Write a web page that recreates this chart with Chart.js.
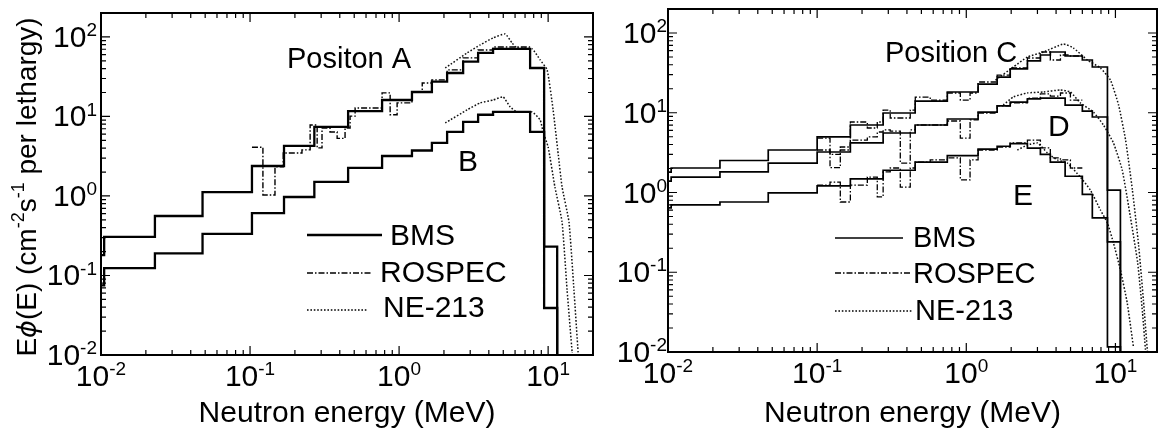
<!DOCTYPE html>
<html>
<head>
<meta charset="utf-8">
<script src="https://cdn.jsdelivr.net/npm/chart.js@4.4.1/dist/chart.umd.min.js"></script>
<style>
  html, body { margin: 0; padding: 0; background: #fff; overflow: hidden; }
  #wrap { position: relative; width: 1158px; height: 429px; }
  #leftBox { position: absolute; left: 0; top: 0; width: 600px; height: 429px; }
  #rightBox { position: absolute; left: 600px; top: 0; width: 558px; height: 429px; }
</style>
</head>
<body>
<div id="wrap">
  <div id="leftBox"><canvas id="leftChart" width="600" height="429"></canvas></div>
  <div id="rightBox"><canvas id="rightChart" width="558" height="429"></canvas></div>
</div>
<script>
// ---- Left panel: positions A and B ----
// BMS histograms (bin edges in MeV, one value per bin)
const bmsEdgesLeft = [0.01, 0.0105, 0.023, 0.048, 0.103, 0.169, 0.27, 0.455, 0.769, 1.22, 1.66, 2.10, 2.69, 3.39, 4.27, 7.57, 9.4, 11.5];
const bmsA = [0.18, 0.305, 0.56, 1.12, 2.38, 4.26, 7.38, 11.7, 16.1, 20.3, 27.4, 35.2, 48.9, 62.9, 70.6, 40.7, 0.23];
const bmsB = [0.075, 0.124, 0.19, 0.333, 0.61, 0.97, 1.50, 2.25, 3.18, 3.73, 4.64, 6.38, 8.53, 10.5, 11.4, 6.38, 0.039];
// ROSPEC histogram, position A
const rospecEdgesLeft = [0.103, 0.122, 0.147, 0.167, 0.223, 0.253, 0.282, 0.304, 0.344, 0.384, 0.434, 0.469, 0.507, 0.769, 0.871, 0.970, 1.22, 1.43, 1.66, 2.10, 2.69, 3.39, 4.27, 7.57];
const rospecA = [4.1, 1.03, 2.32, 3.47, 3.8, 7.81, 4.02, 7.16, 6.38, 5.3, 7.16, 10.1, 12.8, 19.8, 10.5, 14.8, 20.3, 26.4, 28.8, 38.5, 54.5, 68.5, 74.8];
// NE-213 spectra
const neEnergyA = [2.04, 2.86, 3.50, 4.27, 5.15, 5.73, 6.19, 7.81, 8.84, 9.85, 10.8, 11.7, 12.4, 13.8, 14.9, 15.9];
const neA = [40.7, 62.9, 79.3, 97.1, 109, 84.1, 72.7, 70.6, 51.4, 38.5, 12.1, 3.28, 1.30, 0.471, 0.0657, 0.0106];
const neEnergyB = [2.04, 2.86, 3.50, 4.27, 4.99, 5.56, 6.19, 7.81, 8.84, 9.26, 10.0, 11.1, 12.4, 13.4, 14.5];
const neB = [8.29, 12.1, 14.8, 16.1, 17.6, 13.2, 11.4, 11.4, 9.03, 6.38, 4.13, 1.30, 0.471, 0.0657, 0.0106];

// ---- Right panel: positions C, D and E ----
const bmsEdgesRight = [0.01, 0.0105, 0.0223, 0.047, 0.10, 0.167, 0.277, 0.454, 0.746, 1.20, 1.61, 1.97, 2.57, 3.14, 3.66, 4.6, 6.0, 7.0, 8.84, 10.8];
const bmsC = [1.8, 2.03, 2.52, 3.41, 4.97, 7.02, 9.93, 14.0, 18.2, 22.9, 28.0, 35.4, 44.6, 53.0, 57.8, 51.5, 45.9, 37.5, 1.07];
const bmsD = [1.39, 1.56, 1.81, 2.34, 3.22, 4.18, 5.57, 7.02, 8.35, 10.2, 12.2, 13.6, 14.9, 15.3, 15.3, 12.5, 10.5, 8.85, 0.24];
const bmsE = [0.64, 0.70, 0.76, 0.99, 1.21, 1.48, 1.9, 2.4, 2.9, 3.5, 3.8, 4.1, 3.6, 3.0, 2.4, 1.6, 0.95, 0.48, 0.0116];
const rospecEdgesRight = [0.10, 0.122, 0.143, 0.167, 0.217, 0.253, 0.277, 0.309, 0.361, 0.421, 0.455, 0.573, 0.746, 0.912, 1.06, 1.20, 1.61, 1.97, 2.57, 3.14, 3.66, 4.28, 4.99, 6.0];
const rospecC = [4.82, 3.0, 3.72, 7.66, 6.44, 7.66, 10.8, 8.59, 8.59, 10.8, 15.7, 14.4, 17.7, 14.4, 17.7, 24.3, 29.7, 36.4, 48.6, 57.8, 45.9, 53.0, 51.5];
const rospecD = [3.41, 2.05, 3.41, 4.55, 4.97, 5.74, 6.09, 5.9, 2.34, 6.09, 7.02, 7.02, 7.88, 4.82, 8.12, 9.93, 12.2, 13.3, 15.3, 17.2, 16.2, 17.7, 14.4];
const rospecE = [1.24, 1.35, 0.76, 1.24, 1.56, 0.88, 1.81, 2.03, 1.17, 2.03, 2.41, 2.56, 2.71, 1.44, 2.56, 3.41, 3.72, 4.18, 4.55, 3.62, 2.71, 2.56, 2.03];
const neEnergyC = [1.57, 2.07, 2.57, 3.29, 4.48, 5.23, 6.49, 7.93, 9.26, 10.5, 11.7, 13.0, 14.3, 15.4, 16.4];
const neC = [25.7, 37.5, 50.0, 57.8, 72.8, 64.8, 45.9, 36.4, 25.7, 12.5, 4.55, 1.07, 0.22, 0.0449, 0.01];
const neEnergyD = [1.77, 2.07, 2.57, 3.29, 4.28, 4.99, 5.82, 7.12, 8.31, 9.70, 11.1, 12.6, 14.1, 15.2, 15.9];
const neD = [12.5, 15.8, 17.7, 18.2, 19.3, 18.2, 13.3, 10.2, 7.02, 4.18, 1.92, 0.493, 0.131, 0.0308, 0.0106];
const neEnergyE = [2.20, 2.57, 3.00, 3.50, 4.08, 4.76, 5.82, 6.80, 7.93, 8.84, 9.70, 10.8, 12.0, 13.2];
const neE = [3.41, 3.94, 4.18, 3.13, 2.56, 2.34, 1.56, 1.07, 0.603, 0.415, 0.233, 0.107, 0.0412, 0.0116];

// Axes
const xRangeLeft = [0.01, 20];
const xRangeRight = [0.01, 19];
const yRange = [0.01, 200];
const xDecades = [-2, -1, 0, 1];
const yDecades = [-2, -1, 0, 1, 2];
const seriesNames = ['BMS', 'ROSPEC', 'NE-213'];

const FONT = '"Liberation Sans", Arial, sans-serif';
const DASH_ROSPEC = [6, 2, 1.5, 2];
const DASH_NE = [1.6, 1.8];

// histogram -> points for a step line (horizontal over each bin)
function histPoints(edges, values, drop) {
    const pts = values.map((v, i) => ({ x: edges[i], y: v }));
    pts.push({ x: edges[edges.length - 1], y: drop ? 0.001 : values[values.length - 1] });
    return pts;
}

function curvePoints(energies, values) {
    return energies.map((e, i) => ({ x: e, y: values[i] }));
}

function stepSet(points, width, dash) {
    return { data: points, stepped: 'before', borderColor: '#000', borderWidth: width,
             borderDash: dash || [], pointRadius: 0, fill: false };
}

function curveSet(points) {
    return { data: points, borderColor: '#111', borderWidth: 1.5, borderDash: DASH_NE,
             pointRadius: 0, fill: false, tension: 0.15 };
}

function logTicks(min, max) {
    const out = [];
    for (let d = Math.floor(Math.log10(min)); d <= Math.floor(Math.log10(max)); d++) {
        for (let k = 1; k <= 9; k++) {
            const v = k * Math.pow(10, d);
            if (v >= min * 0.999 && v <= max * 1.001) out.push({ value: v, major: k === 1 });
        }
    }
    return out;
}

// "10" with a raised exponent
function drawPow10(ctx, exp, x, baseline, align, size) {
    const big = size + 'px ' + FONT;
    const small = Math.round(size * 0.64) + 'px ' + FONT;
    ctx.font = big;
    const w1 = ctx.measureText('10').width;
    ctx.font = small;
    const w2 = ctx.measureText(exp).width;
    const x0 = align === 'right' ? x - w1 - w2 : x - (w1 + w2) / 2;
    ctx.textAlign = 'left';
    ctx.font = big;
    ctx.fillText('10', x0, baseline);
    ctx.font = small;
    ctx.fillText(exp, x0 + w1, baseline - size * 0.36);
}

function drawYTitle(ctx, bx, cy) {
    const parts = [
        { t: 'E', f: '28px ' + FONT },
        { t: '\u03D5', f: 'italic 27px "DejaVu Sans"' },
        { t: '(E) (cm', f: '28px ' + FONT },
        { t: '-2', f: '18px ' + FONT, sup: true },
        { t: 's', f: '28px ' + FONT },
        { t: '-1', f: '18px ' + FONT, sup: true },
        { t: ' per lethargy)', f: '28px ' + FONT }
    ];
    let total = 0;
    parts.forEach(p => { ctx.font = p.f; p.w = ctx.measureText(p.t).width; total += p.w; });
    ctx.save();
    ctx.translate(bx, cy);
    ctx.rotate(-Math.PI / 2);
    ctx.textAlign = 'left';
    let x = -total / 2;
    parts.forEach(p => {
        ctx.font = p.f;
        ctx.fillText(p.t, x, p.sup ? -12 : 0);
        x += p.w;
    });
    ctx.restore();
}

// frame, inward ticks, tick labels, titles, legend and annotations
function panelPlugin(cfg) {
    return {
        id: 'panelDecor',
        afterDatasetsDraw(chart) {
            const ctx = chart.ctx;
            const area = chart.chartArea;
            const xs = chart.scales.x;
            const ys = chart.scales.y;
            ctx.save();
            ctx.strokeStyle = '#000';
            ctx.fillStyle = '#000';
            ctx.setLineDash([]);

            ctx.lineWidth = 1.2;
            ctx.beginPath();
            logTicks(xs.min, xs.max).forEach(t => {
                const p = xs.getPixelForValue(t.value);
                const len = t.major ? 9 : 5;
                ctx.moveTo(p, area.bottom); ctx.lineTo(p, area.bottom - len);
                ctx.moveTo(p, area.top); ctx.lineTo(p, area.top + len);
            });
            logTicks(ys.min, ys.max).forEach(t => {
                const p = ys.getPixelForValue(t.value);
                const len = t.major ? 9 : 5;
                ctx.moveTo(area.left, p); ctx.lineTo(area.left + len, p);
                ctx.moveTo(area.right, p); ctx.lineTo(area.right - len, p);
            });
            ctx.stroke();
            ctx.lineWidth = 2;
            ctx.strokeRect(area.left, area.top, area.right - area.left, area.bottom - area.top);

            ctx.textBaseline = 'alphabetic';
            xDecades.forEach(d => {
                drawPow10(ctx, String(d), xs.getPixelForValue(Math.pow(10, d)), area.bottom + 31, 'center', 30);
            });
            yDecades.forEach(d => {
                drawPow10(ctx, String(d), area.left - cfg.yLabelGap, ys.getPixelForValue(Math.pow(10, d)) + 10, 'right', 30);
            });

            ctx.font = '30px ' + FONT;
            ctx.textAlign = 'center';
            ctx.fillText('Neutron energy (MeV)', (area.left + area.right) / 2, 422);
            if (cfg.yTitle) drawYTitle(ctx, 36, 187);

            // legend
            const dashes = [[], DASH_ROSPEC, DASH_NE];
            cfg.legend.forEach((item, i) => {
                ctx.setLineDash(dashes[i]);
                ctx.lineWidth = i === 0 ? cfg.bmsWidth : 1.4;
                ctx.beginPath();
                ctx.moveTo(item.x1, item.y);
                ctx.lineTo(item.x2, item.y);
                ctx.stroke();
                ctx.setLineDash([]);
                ctx.font = cfg.legendSize + 'px ' + FONT;
                ctx.textAlign = 'left';
                ctx.fillText(seriesNames[i], item.tx, item.ty);
            });

            cfg.notes.forEach(n => {
                ctx.font = n.size + 'px ' + FONT;
                ctx.textAlign = 'left';
                ctx.fillText(n.text, n.x, n.y);
            });
            ctx.restore();
        }
    };
}

function makeChart(canvasId, datasets, xRange, fit, cfg) {
    return new Chart(document.getElementById(canvasId), {
        type: 'line',
        data: { datasets: datasets },
        options: {
            responsive: false,
            animation: false,
            devicePixelRatio: 1,
            events: [],
            layout: { padding: { top: fit.top, right: fit.right, left: 0, bottom: 0 } },
            plugins: { legend: { display: false }, tooltip: { enabled: false } },
            scales: {
                x: {
                    type: 'logarithmic', min: xRange[0], max: xRange[1],
                    ticks: { display: false }, grid: { display: false }, border: { display: false },
                    afterFit: s => { s.height = fit.xHeight; }
                },
                y: {
                    type: 'logarithmic', min: yRange[0], max: yRange[1],
                    ticks: { display: false }, grid: { display: false }, border: { display: false },
                    afterFit: s => { s.width = fit.yWidth; }
                }
            }
        },
        plugins: [panelPlugin(cfg)]
    });
}

makeChart('leftChart', [
    stepSet(histPoints(bmsEdgesLeft, bmsA, true), 2.3),
    stepSet(histPoints(bmsEdgesLeft, bmsB, true), 2.3),
    stepSet(histPoints(rospecEdgesLeft, rospecA, false), 1.4, DASH_ROSPEC),
    curveSet(curvePoints(neEnergyA, neA)),
    curveSet(curvePoints(neEnergyB, neB))
], xRangeLeft, { top: 13, right: 7, xHeight: 74, yWidth: 101 }, {
    yTitle: true, yLabelGap: 4, bmsWidth: 2.3, legendSize: 30,
    legend: [
        { x1: 307, x2: 382, y: 235, tx: 390, ty: 245 },
        { x1: 307, x2: 372, y: 273, tx: 380, ty: 282 },
        { x1: 307, x2: 368, y: 310, tx: 383, ty: 317 }
    ],
    notes: [
        { text: 'Positon A', x: 287, y: 68, size: 29 },
        { text: 'B', x: 458, y: 171, size: 30 }
    ]
});

makeChart('rightChart', [
    stepSet(histPoints(bmsEdgesRight, bmsC, true), 1.7),
    stepSet(histPoints(bmsEdgesRight, bmsD, true), 1.7),
    stepSet(histPoints(bmsEdgesRight, bmsE, true), 1.7),
    stepSet(histPoints(rospecEdgesRight, rospecC, false), 1.3, DASH_ROSPEC),
    stepSet(histPoints(rospecEdgesRight, rospecD, false), 1.3, DASH_ROSPEC),
    stepSet(histPoints(rospecEdgesRight, rospecE, false), 1.3, DASH_ROSPEC),
    curveSet(curvePoints(neEnergyC, neC)),
    curveSet(curvePoints(neEnergyD, neD)),
    curveSet(curvePoints(neEnergyE, neE))
], xRangeRight, { top: 9, right: 1, xHeight: 77, yWidth: 68 }, {
    yTitle: false, yLabelGap: 1, bmsWidth: 1.7, legendSize: 29,
    legend: [
        { x1: 235, x2: 303, y: 238, tx: 313, ty: 247 },
        { x1: 235, x2: 310, y: 273, tx: 313, ty: 283 },
        { x1: 235, x2: 312, y: 311, tx: 315, ty: 320 }
    ],
    notes: [
        { text: 'Position C', x: 285, y: 62, size: 29 },
        { text: 'D', x: 448, y: 136, size: 30 },
        { text: 'E', x: 413, y: 205, size: 30 }
    ]
});
</script>
</body>
</html>
